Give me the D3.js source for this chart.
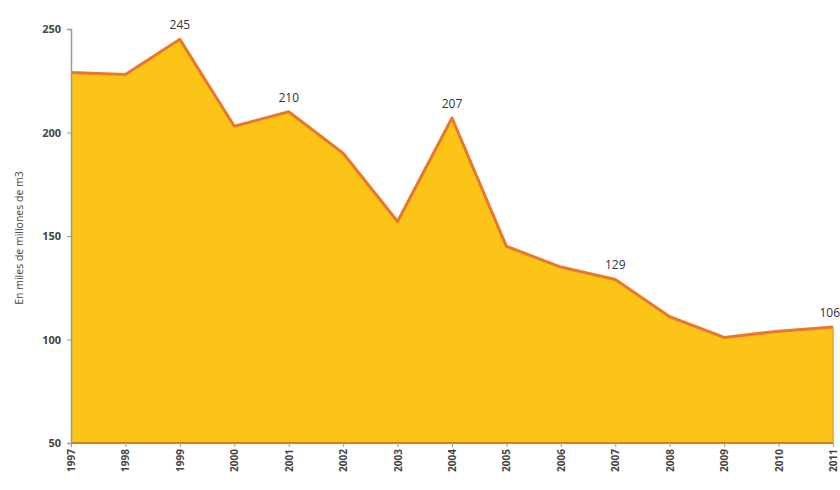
<!DOCTYPE html>
<html><head><meta charset="utf-8">
<script src="https://cdn.jsdelivr.net/npm/d3@7"></script>
<style>body{margin:0;background:#fff}</style>
</head><body>
<svg id="c" width="840" height="490"></svg>
<script>
const years = [1997,1998,1999,2000,2001,2002,2003,2004,2005,2006,2007,2008,2009,2010,2011];
const values = [229,228,245,203,210,190,157,207,145,135,129,111,101,104,106];
const labeledYears = [1999,2001,2004,2007,2011];
const yTicks = [50,100,150,200,250];
const yTitle = "En miles de millones de m3";

const svg = d3.select("#c");
const m = {l:71, r:833, t:29, b:443};
const x = d3.scalePoint().domain(years).range([m.l, m.r]);
const y = d3.scaleLinear().domain([50,250]).range([m.b, m.t]);

const area = d3.area().x((d,i)=>x(years[i])).y0(y(50)).y1(d=>y(d));
const line = d3.line().x((d,i)=>x(years[i])).y(d=>y(d));

svg.append("path").datum(values).attr("d", area).attr("fill","#FDC418");
svg.append("path").datum(values).attr("d", line).attr("fill","none")
  .attr("stroke","#E8782A").attr("stroke-width",3).attr("stroke-linejoin","round");
svg.append("line").attr("x1",m.l).attr("x2",m.r).attr("y1",y(50)).attr("y2",y(50))
  .attr("stroke","#C8862A").attr("stroke-width",2);
svg.append("line").attr("x1",m.r).attr("x2",m.r).attr("y1",y(values[values.length-1])).attr("y2",y(50))
  .attr("stroke","#E8A030").attr("stroke-width",1.5);

const ya = svg.append("g").attr("transform",`translate(${m.l},0)`)
  .call(d3.axisLeft(y).tickValues(yTicks).tickSize(4).tickPadding(6));
ya.select(".domain").attr("stroke","#999").attr("stroke-width",1.5);
ya.selectAll(".tick line").attr("stroke","#999");
ya.selectAll("text").attr("font-family","Open Sans, sans-serif").attr("font-size",11)
  .attr("font-weight","bold").attr("fill","#444");

const xa = svg.append("g").attr("transform",`translate(0,${y(50)})`)
  .call(d3.axisBottom(x).tickSize(4).tickPadding(4));
xa.select(".domain").remove();
xa.selectAll(".tick line").attr("stroke","#999");
xa.selectAll("text").attr("font-family","Open Sans, sans-serif").attr("font-size",10)
  .attr("font-weight","bold").attr("fill","#444")
  .attr("transform","rotate(-90)").attr("text-anchor","end")
  .attr("x",-6).attr("y",0).attr("dy","0.35em");

svg.append("text").attr("transform",`translate(23,238) rotate(-90)`)
  .attr("text-anchor","middle").attr("font-family","Open Sans, sans-serif")
  .attr("font-size",10.5).attr("fill","#444").text(yTitle);

svg.append("g").selectAll("text").data(labeledYears).join("text")
  .attr("x",d=>x(d)).attr("y",d=>y(values[years.indexOf(d)])-10)
  .attr("text-anchor",d=>d===2011?"end":"middle")
  .attr("dx",d=>d===2011?7:0)
  .attr("font-family","Open Sans, sans-serif").attr("font-size",12)
  .attr("fill","#333").text(d=>values[years.indexOf(d)]);
</script>
</body></html>
